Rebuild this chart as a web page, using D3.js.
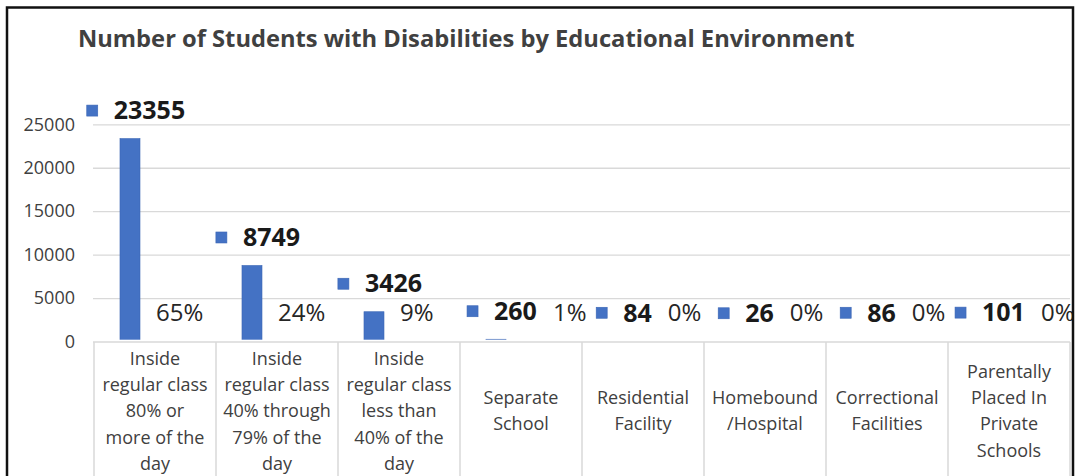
<!DOCTYPE html>
<html lang="en">
<head>
    <meta charset="UTF-8">
    <title>Students with Disabilities by Educational Environment</title>
    <script src="https://d3js.org/d3.v7.min.js"></script>
    <style>
        body { margin: 0; background: #fff; }
        svg text { font-family: "Open Sans", "Noto Sans", sans-serif; }
    </style>
</head>
<body>
    <div id="chart"></div>
    <script>
        // data
        var categories = [
            "Inside regular class 80% or more of the day",
            "Inside regular class 40% through 79% of the day",
            "Inside regular class less than 40% of the day",
            "Separate School",
            "Residential Facility",
            "Homebound /Hospital",
            "Correctional Facilities",
            "Parentally Placed In Private Schools"
        ];
        var tickLines = [
            ["Inside", "regular class", "80% or", "more of the", "day"],
            ["Inside", "regular class", "40% through", "79% of the", "day"],
            ["Inside", "regular class", "less than", "40% of the", "day"],
            ["Separate", "School"],
            ["Residential", "Facility"],
            ["Homebound", "/Hospital"],
            ["Correctional", "Facilities"],
            ["Parentally", "Placed In", "Private", "Schools"]
        ];
        var counts = [23355, 8749, 3426, 260, 84, 26, 86, 101];
        var yTicks = [0, 5000, 10000, 15000, 20000, 25000];
        var title = "Number of Students with Disabilities by Educational Environment";

        var W = 1078, H = 476;
        var blue = "#4472C4", grey = "#d9d9d9", textCol = "#404040";

        var svg = d3.select("#chart").append("svg")
            .attr("width", W).attr("height", H);

        svg.append("rect").attr("width", W).attr("height", H).style("fill", "#fff");

        var x = d3.scaleBand().domain(categories).range([94, 1070]);
        var y = d3.scaleLinear().domain([0, 25000]).range([341.5, 124.3]);
        var bw = x.bandwidth();
        var total = d3.sum(counts);
        var pct = d3.format(".0%");

        // title, sized so it spans the same width as the original
        var titleText = svg.append("text")
            .attr("x", 78).attr("y", 47)
            .style("font-size", "21px")
            .style("font-weight", "bold")
            .style("fill", textCol)
            .text(title);
        var tl = titleText.node().getComputedTextLength();
        titleText.style("font-size", (21 * 777 / tl) + "px");

        // gridlines
        svg.append("g")
            .attr("transform", "translate(93,0)")
            .call(d3.axisLeft(y).tickValues(yTicks).tickSize(-(1070 - 93)).tickFormat(""))
            .call(g => g.select(".domain").remove())
            .call(g => g.selectAll("line").style("stroke", grey).style("stroke-width", 1.3));

        // y axis labels
        svg.append("g")
            .attr("transform", "translate(93,0)")
            .call(d3.axisLeft(y).tickValues(yTicks).tickSize(0).tickPadding(18).tickFormat(d3.format("d")))
            .call(g => g.select(".domain").remove())
            .call(g => g.selectAll("text")
                .style("font-family", "'Open Sans', sans-serif")
                .style("font-size", "18px")
                .style("fill", textCol));

        // bars
        var barOff = bw * 0.213, barW = bw * 0.164;
        svg.append("g").selectAll("rect")
            .data(counts)
            .enter().append("rect")
            .attr("x", (d, i) => x(categories[i]) + barOff)
            .attr("y", d => y(d))
            .attr("width", barW)
            .attr("height", d => y(0) - y(d))
            .style("fill", blue)
            .style("stroke", "#3b66b5")
            .style("stroke-width", 0.6);

        // category table under the plot (white box sits over the bar feet)
        var table = svg.append("g");
        table.append("rect")
            .attr("x", 94).attr("y", y(0) - 1.8)
            .attr("width", 1070 - 94).attr("height", H)
            .style("fill", "#fff");
        table.append("line")
            .attr("x1", 94).attr("x2", 1070)
            .attr("y1", y(0) + 0.5).attr("y2", y(0) + 0.5)
            .style("stroke", grey).style("stroke-width", 1.5);
        var edges = categories.map(c => x(c)).concat([x.range()[1]]);
        table.selectAll(".edge").data(edges).enter().append("line")
            .attr("x1", d => d).attr("x2", d => d)
            .attr("y1", y(0) + 0.5).attr("y2", H)
            .style("stroke", grey).style("stroke-width", 1.5);

        var lineH = 26.3, labelMid = 411;
        categories.forEach(function(c, i) {
            var lines = tickLines[i];
            var t = table.append("text")
                .attr("text-anchor", "middle")
                .style("font-size", "18px")
                .style("fill", textCol);
            lines.forEach(function(l, j) {
                t.append("tspan")
                    .attr("x", x(c) + bw / 2)
                    .attr("y", labelMid - (lines.length - 1) * lineH / 2 + j * lineH)
                    .attr("dy", "0.35em")
                    .text(l);
            });
        });

        // value labels with legend key, then percent labels
        var pctY = y(0) - 29;
        var labels = svg.append("g");
        counts.forEach(function(v, i) {
            var bx = x(categories[i]) + barOff;
            var cx = bx + barW / 2 + 6;
            var cy = y(v) - 28;
            var t = labels.append("text")
                .attr("y", cy).attr("dy", "0.35em")
                .style("font-size", "25px")
                .style("font-weight", "bold")
                .style("fill", "#1a1a1a")
                .text(v);
            var tw = t.node().getComputedTextLength();
            var left = cx - (11 + 16 + tw) / 2;
            labels.append("rect")
                .attr("x", left).attr("y", cy - 5.5)
                .attr("width", 11).attr("height", 11)
                .style("fill", blue)
                .style("stroke", "#3b66b5").style("stroke-width", 0.6);
            t.attr("x", left + 27);

            // percent share: beside tall bars, inline after short ones
            var px = (cy < pctY - 15) ? bx + barW + 16 : left + 27 + tw + 16;
            labels.append("text")
                .attr("x", px).attr("y", pctY).attr("dy", "0.35em")
                .style("font-size", "24px")
                .style("fill", "#262626")
                .text(pct(v / total));
        });

        // chart frame
        svg.append("rect")
            .attr("x", 7).attr("y", 7.5)
            .attr("width", 1066).attr("height", H)
            .style("fill", "none")
            .style("stroke", "#111")
            .style("stroke-width", 2.5);
    </script>
</body>
</html>
